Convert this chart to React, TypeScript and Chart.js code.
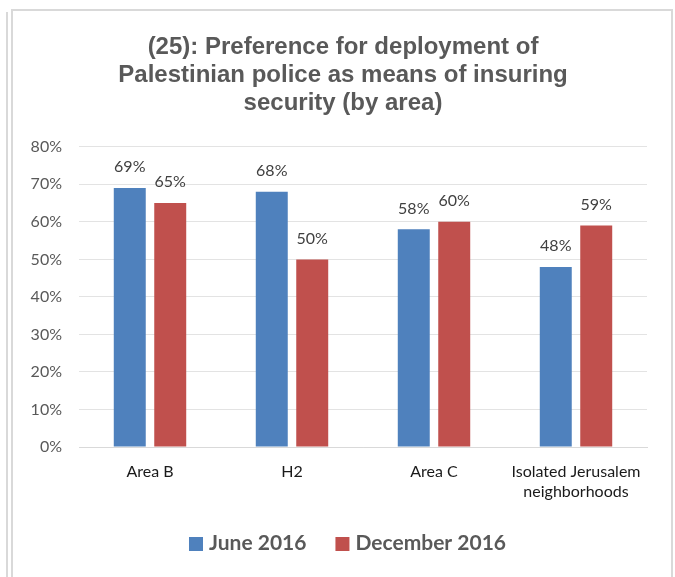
import React, { useEffect, useRef } from "react";
import { Chart, registerables } from "chart.js";

Chart.register(...registerables);

const titleLines = [
  "(25): Preference for deployment of",
  "Palestinian police as means of insuring",
  "security (by area)",
];
const categories: (string | string[])[] = [
  "Area B",
  "H2",
  "Area C",
  ["Isolated Jerusalem", "neighborhoods"],
];
const seriesNames = ["June 2016", "December 2016"];
const june2016 = [69, 68, 58, 48];
const december2016 = [65, 50, 60, 59];
const seriesColors = ["#4f81bd", "#c0504d"];
const yTicks = [0, 10, 20, 30, 40, 50, 60, 70, 80];

const FONT = "Lato, 'Noto Sans', sans-serif";

const dataLabelPlugin = {
  id: "dataLabels",
  afterDatasetsDraw(chart: any) {
    const ctx = chart.ctx;
    ctx.save();
    ctx.font = `16px ${FONT}`;
    ctx.fillStyle = "#404040";
    ctx.textAlign = "center";
    ctx.textBaseline = "middle";
    chart.data.datasets.forEach((ds: any, i: number) => {
      const meta = chart.getDatasetMeta(i);
      meta.data.forEach((bar: any, j: number) => {
        ctx.fillText(`${ds.data[j]}%`, bar.x, bar.y - 21);
      });
    });
    ctx.restore();
  },
};

const legendPlugin = {
  id: "customLegend",
  afterDraw(chart: any) {
    const ctx = chart.ctx;
    ctx.save();
    ctx.font = `bold 21px ${FONT}`;
    ctx.textBaseline = "middle";
    ctx.textAlign = "left";
    const box = 14;
    const gapText = 6;
    const gapItem = 29;
    const items = chart.data.datasets.map((ds: any) => ({
      label: ds.label,
      color: ds.backgroundColor,
      w: ctx.measureText(ds.label).width,
    }));
    const total = items.reduce((s: number, it: any) => s + box + gapText + it.w, 0) + gapItem * (items.length - 1);
    let x = chart.width / 2 + 10 - total / 2;
    const y = 543;
    items.forEach((it: any) => {
      ctx.fillStyle = it.color;
      ctx.fillRect(x, y - box / 2 + 1, box, box);
      x += box + gapText;
      ctx.fillStyle = "#595959";
      ctx.fillText(it.label, x, y);
      x += it.w + gapItem;
    });
    ctx.restore();
  },
};

export default function App() {
  const ref = useRef<HTMLCanvasElement>(null);
  useEffect(() => {
    if (!ref.current) return;
    const chart = new Chart(ref.current, {
      type: "bar",
      data: {
        labels: categories,
        datasets: [
          {
            label: seriesNames[0],
            data: june2016,
            backgroundColor: seriesColors[0],
            categoryPercentage: 0.57,
            barPercentage: 0.79,
          },
          {
            label: seriesNames[1],
            data: december2016,
            backgroundColor: seriesColors[1],
            categoryPercentage: 0.57,
            barPercentage: 0.79,
          },
        ],
      },
      options: {
        animation: false,
        responsive: false,
        maintainAspectRatio: false,
        layout: { padding: { left: 11, right: 0, top: 0, bottom: 60 } },
        plugins: {
          title: {
            display: true,
            text: titleLines,
            color: "#595959",
            font: { family: "'Liberation Sans', Arial, sans-serif", size: 24, weight: "bold", lineHeight: 1.15 },
            padding: { top: 34, bottom: 30 },
          },
          legend: { display: false },
          tooltip: { enabled: false },
        },
        scales: {
          x: {
            grid: { display: false, drawTicks: false },
            border: { display: true, color: "#d9d9d9" },
            ticks: {
              color: "#1a1a1a",
              padding: 15,
              maxRotation: 0,
              autoSkip: false,
              font: { family: FONT, size: 16, lineHeight: 1.25 },
            },
          },
          y: {
            min: 0,
            max: 80,
            ticks: {
              stepSize: 10,
              color: "#595959",
              padding: 17,
              font: { family: FONT, size: 16 },
              callback: (v: any) => (yTicks.includes(v) ? `${v}%` : ""),
            },
            afterFit(scale: any) {
              scale.width = 68;
            },
            grid: { color: "#e3e3e3", drawTicks: false },
            border: { display: false },
          },
          yRight: {
            position: "right",
            display: true,
            grid: { display: false, drawTicks: false },
            border: { display: false },
            ticks: { display: false },
            afterFit(scale: any) {
              scale.width = 28;
            },
          },
        },
      },
      plugins: [dataLabelPlugin, legendPlugin],
    });
    return () => chart.destroy();
  }, []);

  return (
    <div style={{ position: "absolute", left: 0, top: 0, width: 675, height: 577, overflow: "hidden", background: "#fff" }}>
      <div style={{ position: "absolute", left: 6, top: 12, width: 2, height: 600, background: "#d9d9d9" }} />
      <div
        style={{
          position: "absolute",
          left: 11,
          top: 9,
          width: 658,
          height: 600,
          border: "2px solid #d9d9d9",
        }}
      />
      <canvas ref={ref} width={675} height={577} style={{ position: "absolute", left: 0, top: 0 }} />
    </div>
  );
}
